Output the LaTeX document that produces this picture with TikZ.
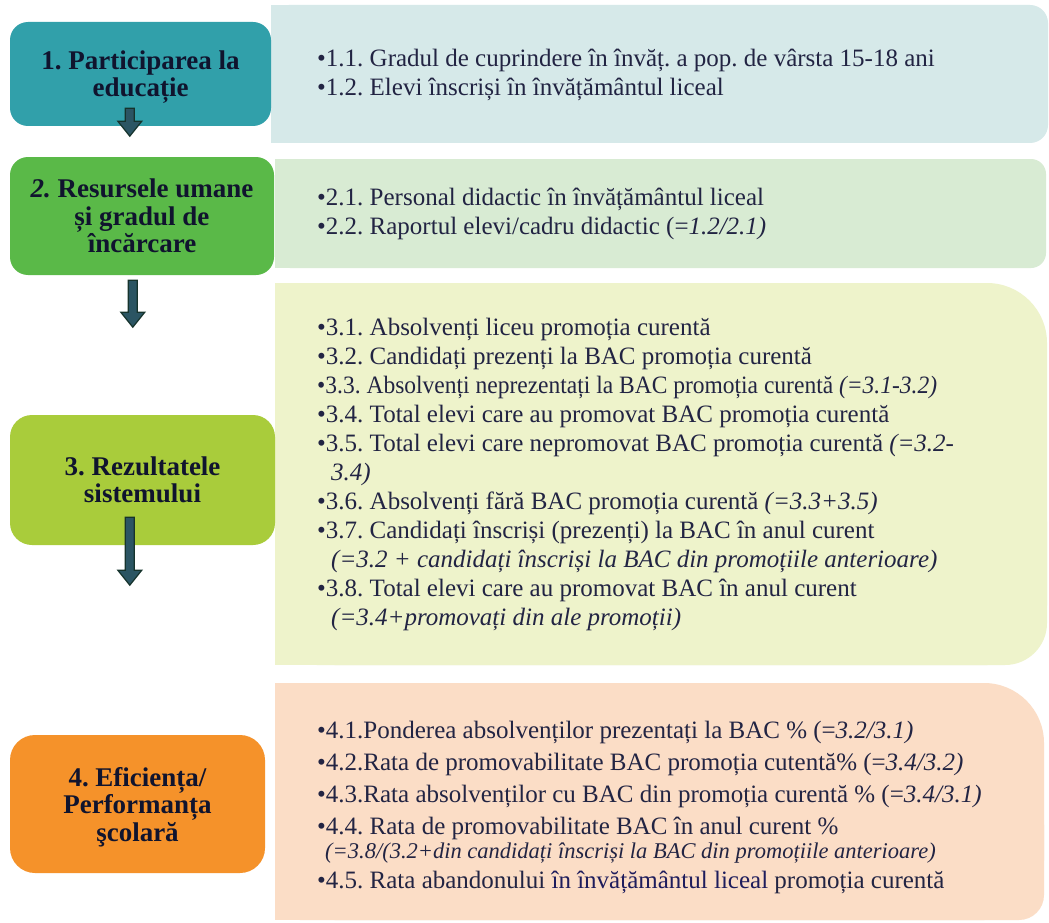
\documentclass[tikz,border=0pt]{standalone}
\usepackage{fontspec}
\setmainfont{Liberation Serif}
\usepackage{graphicx}
\usetikzlibrary{calc}
\frenchspacing
\definecolor{boxA}{HTML}{31A0AA}
\definecolor{panA}{HTML}{D6E9E9}
\definecolor{boxB}{HTML}{5AB948}
\definecolor{panB}{HTML}{D8EBD3}
\definecolor{boxC}{HTML}{A9CC3B}
\definecolor{panC}{HTML}{EEF3CB}
\definecolor{boxD}{HTML}{F5922A}
\definecolor{panD}{HTML}{FBDDC6}
\definecolor{boxtxt}{HTML}{10142E}
\definecolor{pantxt}{HTML}{222443}
\definecolor{navytxt}{HTML}{1E1C5C}
\definecolor{arrowfill}{HTML}{2B5563}
\definecolor{arrowedge}{HTML}{16332C}
\tikzset{
  titlebox/.style={rounded corners=18pt, inner sep=0pt, align=center, text=boxtxt,
    font=\fontsize{27}{27.5}\selectfont\bfseries},
  ptext/.style={anchor=west, inner sep=0pt, align=left, text=pantxt,
    font=\fontsize{25}{29}\selectfont},
  pics/blockarrow/.style={code={
    \filldraw[fill=arrowfill, draw=arrowedge, line width=1.2pt]
      (-4.5,0) -- (4.5,0) -- (4.5,#1-15) -- (12,#1-15) -- (0,#1) -- (-12,#1-15) -- (-4.5,#1-15) -- cycle;
  }}
}
\begin{document}
\begin{tikzpicture}[x=1pt,y=-1pt]
\useasboundingbox (0,0) rectangle (1049,923);
\fill[white] (0,0) rectangle (1049,923);

% panels
\fill[panA, rounded corners=18pt] (271,5) rectangle (1048,143);
\fill[panA] (271,5) rectangle (600,143);
\fill[panB, rounded corners=15pt] (275,159) rectangle (1046,268);
\fill[panB] (275,159) rectangle (600,268);
\fill[panC, rounded corners=60pt] (275,283) rectangle (1047,665);
\fill[panC, rounded corners=42pt] (275,480) rectangle (1047,665);
\fill[panC] (275,283) rectangle (700,665);
\fill[panD, rounded corners=60pt] (275,683) rectangle (1044,920);
\fill[panD, rounded corners=25pt] (275,800) rectangle (1044,920);
\fill[panD] (275,683) rectangle (700,920);

% title boxes
\node[titlebox, fill=boxA, minimum width=261pt, minimum height=104pt] (b1) at (140.5,74) {};
\node[titlebox] (b1t) at (140.5,77) {1. Participarea la\\educație};
\node[titlebox, fill=boxB, minimum width=264pt, minimum height=118pt] (b2) at (142,216)
  {\textit{2.} Resursele umane\\și gradul de\\încărcare};
\node[titlebox, fill=boxC, minimum width=265pt, minimum height=130pt, rounded corners=22pt] (b3) at (142.5,480)
  {3. Rezultatele\\sistemului};
\node[titlebox, fill=boxD, minimum width=255pt, minimum height=138pt, rounded corners=25pt] (b4) at (137.5,804)
  {};
\node[titlebox] (b4t) at (137.5,807) {4. Eficiența/\\Performanța\\şcolară};

% arrows
\coordinate (a1) at ($(b1.south west)+(120,-18)$);
\coordinate (a2) at ($(b2.south west)+(123,5)$);
\coordinate (a3) at ($(b3.south west)+(120,-28)$);
\pic at (a1) {blockarrow=28};
\pic at (a2) {blockarrow=47};
\pic at (a3) {blockarrow=68};

% panel texts
\node[ptext] (t1) at (317,74.5)
  {•1.1. Gradul de cuprindere în învăț. a pop. de vârsta 15-18 ani\\
   •1.2. Elevi înscriși în învățământul liceal};
\node[ptext] (t2) at (317,214)
  {•2.1. Personal didactic în învățământul liceal\\
   •2.2. Raportul elevi/cadru didactic (=\textit{1.2/2.1)}};
\node[ptext] (t3) at (317,474)
  {•3.1. Absolvenți liceu promoția curentă\\
   •3.2. Candidați prezenți la BAC promoția curentă\\
   \scalebox{0.94}[1]{•3.3. Absolvenți neprezentați la BAC promoția curentă \textit{(=3.1-3.2)}}\\
   •3.4. Total elevi care au promovat BAC promoția curentă\\
   •3.5. Total elevi care nepromovat BAC promoția curentă \textit{(=3.2-}\\
   \hspace*{14pt}\textit{3.4)}\\
   •3.6. Absolvenți fără BAC promoția curentă \textit{(=3.3+3.5)}\\
   •3.7. Candidați înscriși (prezenți) la BAC în anul curent\\
   \hspace*{14pt}\textit{(=3.2 + candidați înscriși la BAC din promoțiile anterioare)}\\
   •3.8. Total elevi care au promovat BAC în anul curent\\
   \hspace*{14pt}\textit{(=3.4+promovați din ale promoții)}};
\node[ptext] (t4) at (317,807)
  {•4.1.Ponderea absolvenților prezentați la BAC \% (=\textit{3.2/3.1)}\\[3pt]
   •4.2.Rata de promovabilitate BAC promoția cutentă\% (=\textit{3.4/3.2)}\\[3pt]
   •4.3.Rata absolvenților cu BAC din promoția curentă \% (=\textit{3.4/3.1)}\\[3pt]
   •4.4. Rata de promovabilitate BAC în anul curent \%\\[-5pt]
   \hspace*{8pt}{\fontsize{22.5}{27}\selectfont\itshape (=3.8/(3.2+din candidați înscriși la BAC din promoțiile anterioare)}\\[1pt]
   •4.5. Rata abandonului \textcolor{navytxt}{în învățământul liceal} promoția curentă};
\end{tikzpicture}
\end{document}
